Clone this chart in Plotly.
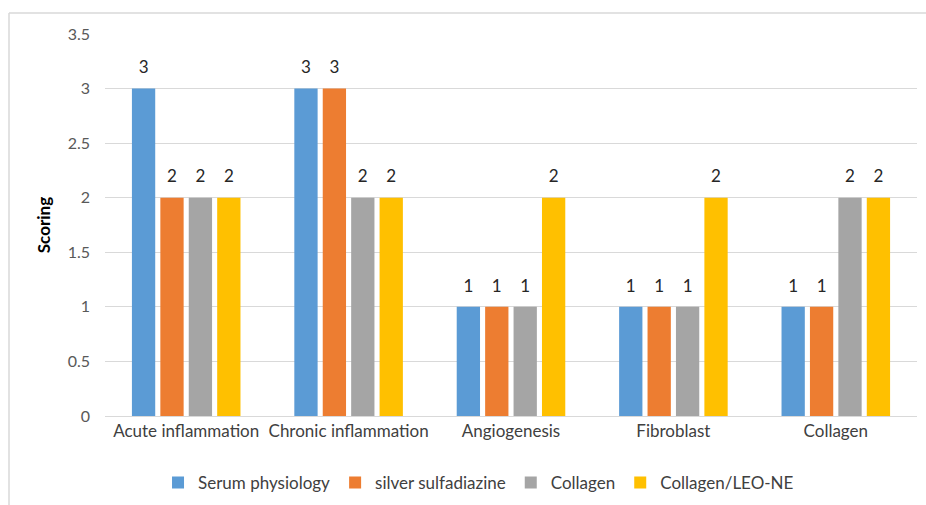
import plotly.graph_objects as go

categories = ["Acute inflammation", "Chronic inflammation", "Angiogenesis", "Fibroblast", "Collagen"]
series_names = ["Serum physiology", "silver sulfadiazine", "Collagen", "Collagen/LEO-NE"]
serum_physiology = [3, 3, 1, 1, 1]
silver_sulfadiazine = [2, 3, 1, 1, 1]
collagen = [2, 2, 1, 1, 2]
collagen_leo_ne = [2, 2, 2, 2, 2]
colors = ["#5b9bd5", "#ed7d31", "#a5a5a5", "#ffc000"]

W, H = 926, 505
L, R, T, B = 105, 9, 34, 89
GAP = 0.3

all_series = [serum_physiology, silver_sulfadiazine, collagen, collagen_leo_ne]

fig = go.Figure()
for i, (name, vals, col) in enumerate(zip(series_names, all_series, colors)):
    fig.add_trace(go.Bar(
        x=categories, y=vals, name=name, marker_color=col, marker_line_width=0,
        offsetgroup=str(i), cliponaxis=False,
    ))
# value labels, aligned with the grouped bars
for i, vals in enumerate(all_series):
    fig.add_trace(go.Scatter(
        x=categories, y=vals, mode="markers+text", offsetgroup=str(i),
        marker=dict(size=16, color="rgba(0,0,0,0)"),
        text=[str(v) for v in vals], textposition="top center",
        textfont=dict(size=17, color="#262626"), cliponaxis=False,
        showlegend=False, hoverinfo="skip",
    ))

pw = W - L - R
ph = H - T - B
# outer chart frame (left and top edges visible)
fig.add_shape(type="line", xref="paper", yref="paper",
              x0=(9 - L) / pw, x1=(W + 5 - L) / pw,
              y0=(H - 13 - B) / ph, y1=(H - 13 - B) / ph,
              line=dict(color="#d9d9d9", width=1.5))
fig.add_shape(type="line", xref="paper", yref="paper",
              x0=(9 - L) / pw, x1=(9 - L) / pw,
              y0=(H - 13 - B) / ph, y1=-(B + 30) / ph,
              line=dict(color="#d9d9d9", width=1.5))

fig.update_layout(
    width=W, height=H,
    margin=dict(l=L, r=R, t=T, b=B, autoexpand=False),
    paper_bgcolor="white", plot_bgcolor="white",
    barmode="group", bargap=GAP, bargroupgap=0.18,
    scattermode="group", scattergap=GAP,
    font=dict(family="Lato, Open Sans, sans-serif", size=17, color="#595959"),
    xaxis=dict(showgrid=False, showline=True, linecolor="#d9d9d9", linewidth=1,
               ticks="", tickfont=dict(size=17, color="#404040")),
    yaxis=dict(range=[0, 3.5], dtick=0.5, showgrid=True, gridcolor="#d9d9d9",
               gridwidth=1, zeroline=False, ticks="", ticklen=0,
               ticklabelstandoff=14,
               tickfont=dict(size=16, color="#595959"),
               title=dict(text="<b>Scoring</b>", font=dict(size=17, color="#000000"),
                          standoff=12)),
    legend=dict(orientation="h", x=0.46, xanchor="center", y=-0.175, yanchor="middle",
                font=dict(size=17, color="#404040"), itemwidth=30, traceorder="normal"),
    showlegend=True,
)

fig.write_html("out.html")
